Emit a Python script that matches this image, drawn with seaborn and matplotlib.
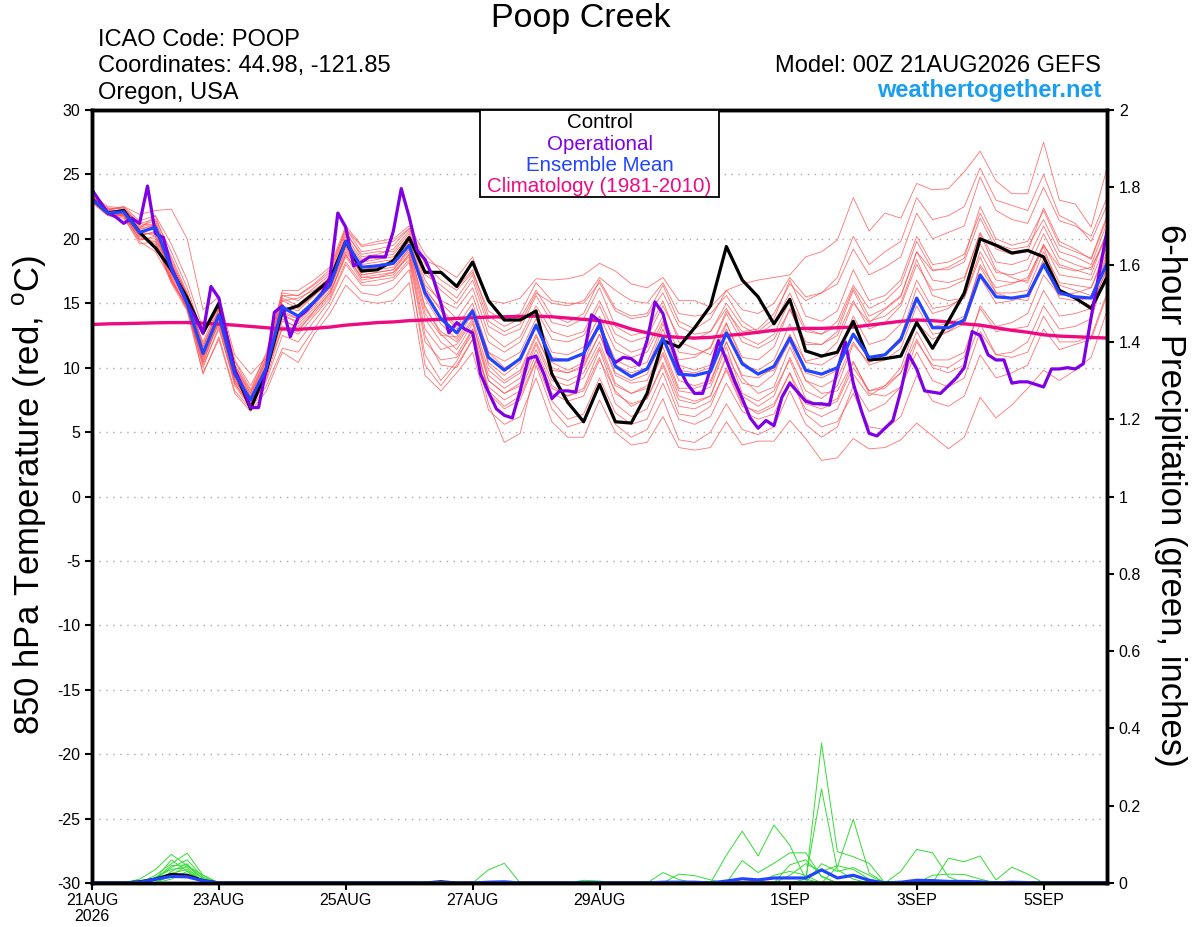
import numpy as np
import pandas as pd
import seaborn as sns
import matplotlib.pyplot as plt
from matplotlib.patches import Rectangle

# forecast hours: GEFS every 6 h, operational GFS every 3 h
hours = np.arange(0, 385, 6)
hours_op = np.arange(0, 385, 3)

tick_hours = [0, 48, 96, 144, 192, 264, 312, 360]
tick_labels = ["21AUG\n2026", "23AUG", "25AUG", "27AUG", "29AUG", "1SEP", "3SEP", "5SEP"]

control = [23.1, 22.0, 22.2, 20.5, 19.3, 17.6, 15.4, 12.7, 15.0, 9.8, 6.8,
           9.8, 14.4, 14.8, 15.8, 16.8, 19.8, 17.5, 17.6, 18.3, 20.1,
           17.4, 17.4, 16.3, 18.2, 15.2, 13.7, 13.7, 14.4, 9.5, 7.3, 5.8, 8.7, 5.8, 5.7, 8.0, 12.1, 11.6, 13.1, 14.8, 19.4,
           16.8, 15.5, 13.4, 15.3, 11.3, 10.9, 11.2, 13.6, 10.6, 10.7, 10.9, 13.5, 11.5, 13.6, 15.8, 20.0, 19.5, 18.9, 19.1, 18.6, 16.0, 15.4, 14.6, 17.0]

ens_mean = [23.1, 22.0, 22.1, 20.5, 20.9, 17.7, 15.0, 11.1, 14.1, 9.5, 7.5,
            10.0, 14.7, 14.0, 15.1, 16.4, 19.8, 17.8, 17.9, 18.1, 19.5,
            15.8, 13.8, 12.7, 14.4, 10.8, 9.8, 10.7, 13.3, 10.6, 10.6, 11.1, 13.3, 10.1, 9.3, 9.9, 12.3, 9.5, 9.4, 9.7, 12.7,
            10.3, 9.5, 10.1, 12.3, 9.8, 9.5, 10.0, 12.6, 10.8, 11.0, 12.2, 15.4, 13.1, 13.1, 13.7, 17.2, 15.5, 15.4, 15.6, 18.0, 15.8, 15.5, 15.4, 18.1]

operational = [23.8, 22.9, 22.0, 21.7, 21.2, 21.6, 21.2, 24.1, 20.4, 20.1,
               17.8, 16.4, 15.0, 13.9, 12.7, 16.3, 15.4, 12.4, 9.8, 8.5,
               6.9, 6.9, 10.0, 14.3, 14.8, 12.4, 13.9, 14.4, 15.1, 15.8,
               17.0, 22.0, 20.9, 17.9, 18.2, 18.6, 18.6, 18.6, 20.6, 23.9,
               21.7, 19.1, 18.4, 17.0, 15.0, 12.7, 13.5, 13.0, 12.7, 9.5,
               8.1, 6.8, 6.3, 6.1, 8.2, 10.7, 10.9, 9.5, 7.6, 8.2,
               8.2, 8.1, 10.9, 14.1, 13.6, 11.2, 10.4, 10.8, 10.7, 10.2,
               12.1, 15.1, 14.2, 11.9, 10.0, 8.8, 8.0, 8.0, 9.9, 12.1,
               10.6, 9.0, 7.6, 6.1, 5.3, 5.9, 5.5, 7.7, 8.8, 8.1,
               7.4, 7.2, 7.2, 7.1, 9.8, 12.0, 8.8, 6.7, 4.9, 4.7,
               5.3, 5.9, 8.2, 11.0, 9.9, 8.2, 8.1, 8.0, 8.6, 9.2,
               10.0, 12.8, 12.5, 11.0, 10.6, 10.6, 8.8, 8.9, 8.9, 8.7,
               8.5, 9.9, 9.9, 10.0, 9.9, 10.3, 13.9, 17.3, 20.6]

climatology = [13.35, 13.4, 13.42, 13.45, 13.48, 13.5, 13.5, 13.45, 13.38, 13.3,
               13.2, 13.1, 13.0, 12.98, 13.05, 13.15, 13.3, 13.4, 13.5, 13.55,
               13.65, 13.7, 13.75, 13.82, 13.88, 13.92, 13.95, 13.98, 14.0, 13.95,
               13.85, 13.75, 13.65, 13.4, 13.0, 12.7, 12.45, 12.35, 12.3, 12.35,
               12.5, 12.6, 12.75, 12.9, 13.0, 13.05, 13.05, 13.1, 13.15, 13.3,
               13.45, 13.6, 13.7, 13.65, 13.55, 13.4, 13.3, 13.1, 12.9, 12.75,
               12.55, 12.45, 12.4, 12.35, 12.3]

members = {
    "m01": [23.3, 22.4, 22.3, 21.2, 21.5, 19.0, 16.2, 12.5, 14.8, 10.5, 8.3,
            11.2, 15.8, 15.6, 16.5, 17.6, 20.8, 19.0, 19.2, 19.5, 20.8,
            18.3, 17.8, 17.0, 18.6, 15.2, 15.0, 15.4, 16.9, 16.8, 16.9, 17.2, 18.1, 17.5, 16.5, 16.2, 17.0, 15.2, 15.2, 14.7, 16.0,
            16.5, 16.8, 17.0, 17.2, 18.6, 19.0, 19.9, 23.2, 20.6, 22.0, 21.6, 24.3, 23.8, 23.9, 25.2, 26.8, 24.5, 23.5, 23.5, 27.5, 23.0, 22.7, 20.9, 25.5],
    "m02": [22.9, 21.8, 21.6, 19.8, 19.0, 16.8, 14.6, 9.6, 12.2, 8.0, 6.6,
            8.2, 11.2, 10.4, 12.6, 14.2, 16.4, 15.2, 15.0, 15.2, 16.6,
            9.4, 8.2, 9.6, 11.2, 6.7, 5.6, 6.2, 9.2, 5.8, 4.6, 4.6, 7.5, 5.0, 4.0, 4.2, 6.2, 3.8, 3.6, 3.8, 5.8,
            4.0, 4.3, 4.3, 5.9, 4.5, 2.8, 3.0, 4.5, 3.7, 3.8, 4.4, 5.7, 4.7, 3.7, 4.6, 7.7, 6.1, 7.1, 8.4, 9.8, 9.0, 9.8, 10.8, 14.4],
    "m03": [23.2, 22.2, 22.2, 20.8, 21.8, 18.4, 15.6, 11.8, 14.5, 9.8, 7.8,
            10.4, 15.2, 14.6, 15.6, 16.9, 20.2, 18.4, 18.6, 18.8, 20.2,
            16.8, 15.0, 13.8, 15.6, 12.0, 11.2, 12.0, 14.5, 12.2, 12.0, 12.5, 14.8, 12.0, 11.2, 11.6, 14.0, 11.2, 11.0, 11.5, 14.2,
            12.0, 11.5, 12.2, 14.5, 12.0, 11.8, 12.5, 15.2, 13.0, 13.5, 14.8, 18.0, 16.0, 16.2, 16.8, 20.5, 18.2, 18.0, 18.4, 21.0, 18.5, 18.0, 17.6, 20.5],
    "m04": [23.0, 21.9, 21.9, 20.2, 20.6, 17.2, 14.8, 10.4, 13.6, 9.0, 7.2,
            9.4, 13.8, 13.0, 14.2, 15.6, 18.8, 17.0, 17.0, 17.4, 18.6,
            12.5, 10.2, 10.0, 12.2, 8.5, 7.5, 8.2, 11.0, 8.0, 7.4, 7.8, 10.6, 8.2, 7.0, 7.6, 10.4, 7.5, 7.2, 7.8, 11.0,
            8.8, 8.5, 9.5, 12.5, 10.5, 10.8, 12.0, 15.0, 13.5, 14.5, 15.5, 19.0, 17.5, 17.8, 18.5, 22.5, 20.0, 19.5, 19.8, 22.2, 19.5, 19.0, 18.5, 21.8],
    "m05": [23.1, 22.1, 22.0, 20.6, 20.2, 17.6, 15.2, 12.0, 14.8, 10.2, 8.0,
            10.8, 15.6, 15.2, 16.2, 17.2, 20.6, 18.6, 18.8, 19.2, 20.6,
            17.6, 16.0, 15.0, 16.8, 13.2, 12.5, 13.0, 15.6, 13.5, 13.2, 13.8, 16.2, 13.2, 12.5, 12.8, 15.2, 12.0, 11.5, 11.0, 13.5,
            10.5, 9.5, 9.8, 12.0, 9.0, 8.0, 8.2, 10.5, 8.0, 7.8, 8.5, 11.2, 9.0, 8.5, 9.2, 12.8, 11.0, 11.2, 12.0, 14.8, 13.0, 13.2, 13.8, 17.5],
    "m06": [23.0, 22.3, 22.5, 21.9, 22.2, 22.3, 20.0, 14.5, 15.5, 11.0, 9.5,
            10.8, 14.2, 13.8, 15.0, 16.2, 19.4, 17.2, 17.4, 17.6, 19.0,
            14.2, 12.5, 12.4, 14.5, 10.2, 9.0, 9.8, 12.6, 9.8, 9.6, 10.2, 12.6, 9.6, 9.0, 9.5, 12.2, 9.0, 8.6, 9.0, 12.0,
            9.2, 8.0, 8.5, 11.6, 9.0, 8.5, 9.2, 12.0, 10.2, 10.6, 11.5, 14.8, 12.6, 12.8, 13.4, 17.0, 15.0, 15.2, 15.6, 18.4, 16.4, 16.0, 15.6, 18.8],
    "m07": [23.0, 21.9, 21.7, 19.6, 19.8, 16.6, 14.4, 9.5, 12.4, 8.2, 6.8,
            8.6, 11.5, 11.2, 13.0, 14.8, 17.2, 15.8, 15.6, 16.2, 17.6,
            11.0, 9.0, 10.5, 13.0, 8.0, 6.8, 7.5, 10.5, 7.4, 6.0, 6.4, 9.2, 6.5, 5.6, 6.0, 8.8, 6.0, 5.6, 6.2, 8.8,
            6.6, 6.0, 6.4, 9.0, 6.8, 6.2, 6.8, 9.5, 7.8, 8.6, 10.0, 13.5, 12.2, 12.8, 13.8, 18.0, 16.2, 16.5, 17.0, 19.5, 17.8, 17.5, 17.8, 20.2],
    "m08": [23.4, 22.5, 22.4, 21.2, 21.0, 18.0, 15.8, 12.6, 15.2, 10.6, 8.6,
            11.0, 16.0, 16.0, 16.8, 17.8, 21.0, 19.5, 19.8, 20.0, 21.0,
            18.8, 17.5, 16.2, 17.6, 14.0, 13.2, 13.8, 16.0, 14.0, 13.5, 14.2, 16.8, 14.6, 14.0, 14.2, 16.4, 13.6, 13.0, 13.8, 16.0,
            14.5, 14.2, 15.0, 17.0, 15.5, 15.8, 16.5, 19.2, 17.2, 17.8, 18.6, 22.0, 20.0, 20.5, 21.0, 24.8, 22.2, 21.5, 21.2, 24.0, 21.4, 21.0, 20.2, 23.2],
    "m09": [23.1, 22.0, 22.0, 20.4, 20.4, 17.0, 14.6, 10.6, 13.8, 9.2, 7.0,
            9.6, 14.2, 13.4, 14.6, 16.0, 19.2, 17.2, 17.4, 17.6, 19.2,
            14.8, 12.6, 11.4, 13.4, 9.4, 8.4, 9.2, 12.0, 9.4, 9.0, 9.6, 12.0, 8.8, 8.0, 8.6, 11.2, 8.2, 8.0, 8.5, 11.6,
            8.0, 7.4, 8.2, 10.6, 7.6, 7.0, 7.6, 10.4, 8.2, 8.4, 9.6, 12.8, 10.6, 10.6, 11.2, 14.6, 12.8, 13.0, 13.2, 16.0, 14.0, 14.2, 14.6, 17.8],
    "m10": [23.2, 22.1, 22.3, 20.9, 21.2, 18.6, 15.8, 11.4, 14.2, 9.6, 7.4,
            10.2, 14.8, 14.4, 15.6, 16.6, 19.8, 18.0, 18.2, 18.4, 19.8,
            16.0, 14.6, 13.2, 15.0, 11.2, 10.5, 11.2, 13.8, 11.2, 11.0, 11.6, 14.0, 11.4, 10.8, 11.2, 13.6, 10.6, 10.8, 11.6, 14.4,
            12.8, 13.0, 14.2, 16.5, 15.2, 15.8, 17.0, 20.2, 18.0, 19.0, 19.8, 23.2, 21.5, 21.8, 22.5, 25.5, 23.0, 22.6, 22.2, 25.0, 21.8, 21.2, 19.8, 22.6],
    "m11": [22.8, 21.8, 21.8, 20.0, 20.0, 16.8, 14.8, 10.0, 13.2, 8.6, 6.9,
            9.0, 12.5, 12.0, 13.6, 15.2, 18.0, 16.4, 16.4, 16.8, 18.2,
            10.2, 8.6, 10.2, 12.2, 7.2, 4.2, 4.9, 10.2, 6.8, 5.4, 5.8, 8.6, 5.6, 4.6, 5.2, 7.6, 4.4, 4.2, 5.0, 7.2,
            5.2, 4.8, 5.4, 8.2, 5.6, 4.6, 5.4, 8.6, 6.6, 7.2, 8.5, 12.0, 10.2, 10.0, 10.8, 14.8, 13.2, 13.5, 14.2, 17.2, 15.6, 15.8, 16.2, 19.0],
    "m12": [23.3, 22.2, 22.5, 21.4, 21.8, 19.6, 16.8, 13.0, 14.6, 10.0, 8.0,
            10.6, 15.2, 15.4, 16.0, 17.0, 20.4, 18.8, 19.0, 19.0, 20.4,
            17.2, 16.4, 15.4, 17.2, 13.6, 12.8, 13.4, 15.8, 15.0, 14.8, 15.2, 17.0, 16.0, 15.2, 15.0, 16.6, 14.2, 14.0, 14.2, 15.6,
            13.6, 12.8, 13.8, 16.8, 14.0, 13.6, 14.4, 17.6, 15.2, 15.6, 16.8, 20.2, 18.0, 18.2, 18.8, 22.0, 19.6, 19.2, 19.4, 21.5, 19.0, 18.6, 18.0, 21.2],
    "m13": [22.9, 21.9, 21.9, 19.9, 20.2, 17.0, 14.5, 10.2, 13.0, 8.8, 7.0,
            9.2, 13.2, 12.6, 14.0, 15.4, 18.2, 16.6, 16.8, 17.0, 18.4,
            12.0, 10.6, 10.8, 12.6, 8.2, 7.0, 7.8, 10.6, 8.4, 7.8, 8.2, 10.8, 7.2, 6.2, 6.8, 9.6, 6.4, 6.2, 7.0, 10.0,
            7.2, 6.4, 7.0, 9.6, 6.4, 5.4, 5.8, 8.0, 5.4, 5.2, 6.2, 9.4, 7.4, 7.0, 7.8, 11.0, 9.2, 9.6, 10.2, 13.0, 11.4, 11.8, 12.2, 15.6],
    "m14": [23.1, 22.0, 22.2, 20.6, 20.8, 17.4, 15.2, 11.2, 14.0, 9.4, 7.4,
            10.0, 14.6, 14.0, 15.2, 16.6, 19.6, 17.6, 17.8, 18.0, 19.6,
            15.4, 13.4, 12.2, 14.2, 10.4, 9.4, 10.4, 13.2, 10.8, 10.6, 11.0, 13.6, 10.2, 9.6, 10.0, 13.0, 9.8, 9.6, 10.0, 13.0,
            10.2, 9.8, 10.6, 13.4, 10.4, 10.2, 11.0, 14.0, 11.8, 12.2, 13.4, 16.8, 14.6, 14.8, 15.4, 19.0, 16.8, 16.6, 16.8, 19.6, 17.2, 17.0, 16.8, 19.8],
    "m15": [23.0, 22.1, 21.8, 20.2, 19.6, 16.6, 14.8, 10.8, 13.4, 9.0, 7.2,
            9.8, 13.0, 12.8, 14.4, 15.8, 18.6, 16.8, 17.0, 17.2, 18.8,
            13.0, 11.4, 11.8, 13.6, 9.0, 8.0, 8.8, 11.8, 9.0, 8.6, 9.2, 11.6, 8.6, 8.0, 8.4, 11.0, 7.8, 7.4, 7.8, 10.8,
            7.8, 7.0, 7.8, 10.8, 8.2, 7.6, 8.6, 11.8, 10.4, 11.0, 12.4, 16.2, 14.2, 14.6, 15.6, 19.6, 17.4, 17.2, 17.6, 20.4, 18.0, 17.6, 17.2, 20.6],
    "m16": [23.2, 22.3, 22.4, 21.0, 21.4, 18.2, 15.6, 11.6, 14.4, 10.0, 7.8,
            10.6, 15.4, 14.8, 15.8, 17.0, 20.0, 18.2, 18.4, 18.6, 20.0,
            16.4, 15.2, 14.6, 16.2, 12.6, 11.6, 12.4, 14.8, 12.8, 12.4, 12.8, 15.2, 12.6, 12.0, 12.4, 14.8, 12.4, 12.2, 12.8, 15.0,
            13.2, 12.6, 13.4, 15.8, 13.0, 12.6, 13.2, 16.2, 14.0, 14.6, 15.6, 19.0, 16.8, 16.6, 17.0, 20.4, 17.6, 17.0, 16.6, 19.4, 16.0, 15.4, 14.8, 17.6],
    "m17": [23.0, 21.9, 21.8, 20.0, 19.8, 16.8, 14.6, 10.4, 13.6, 8.8, 7.0,
            9.6, 13.6, 13.2, 14.4, 15.8, 18.8, 17.0, 17.2, 17.4, 18.8,
            13.8, 12.0, 11.0, 13.0, 9.0, 8.0, 8.6, 11.4, 8.6, 7.8, 8.4, 11.4, 8.0, 7.2, 7.6, 10.2, 7.0, 6.8, 7.4, 9.8,
            7.0, 6.6, 7.2, 9.6, 7.2, 6.8, 7.4, 10.0, 8.2, 8.6, 9.6, 12.2, 10.0, 9.6, 10.2, 13.4, 11.0, 10.8, 11.2, 14.0, 12.0, 12.0, 12.4, 15.8],
    "m18": [23.3, 22.3, 22.1, 20.8, 21.0, 17.8, 15.4, 11.6, 14.6, 10.2, 8.2,
            10.8, 15.6, 15.6, 16.4, 17.4, 20.8, 19.4, 19.6, 19.8, 20.8,
            18.0, 16.8, 16.0, 17.4, 14.4, 13.6, 14.2, 16.6, 15.2, 15.0, 15.0, 16.6, 14.4, 13.8, 14.0, 15.8, 13.2, 12.6, 12.8, 14.6,
            12.4, 11.8, 12.6, 15.2, 12.8, 12.6, 13.6, 16.4, 14.6, 15.2, 16.4, 19.8, 17.6, 17.6, 18.2, 21.6, 19.2, 18.8, 19.0, 22.4, 19.8, 19.2, 18.4, 21.6],
    "m19": [23.0, 22.0, 21.9, 20.3, 20.5, 17.3, 15.0, 10.8, 13.8, 9.2, 7.2,
            9.8, 14.0, 13.6, 14.8, 16.2, 19.0, 17.4, 17.6, 17.8, 19.2,
            14.6, 12.8, 12.0, 13.8, 9.8, 8.8, 9.6, 12.4, 10.0, 9.6, 10.0, 12.6, 9.4, 8.8, 9.0, 11.6, 8.4, 8.4, 8.8, 12.0,
            9.4, 9.2, 10.0, 12.6, 9.6, 9.2, 9.8, 12.6, 10.6, 11.0, 12.0, 15.4, 13.2, 13.4, 14.0, 17.8, 15.8, 15.8, 16.0, 19.0, 16.6, 16.4, 16.2, 19.4],
    "m20": [23.2, 22.2, 22.0, 20.7, 21.1, 18.0, 15.4, 11.2, 14.2, 9.6, 7.6,
            10.2, 14.4, 13.8, 15.0, 16.4, 19.4, 17.8, 18.0, 18.2, 19.8,
            16.2, 14.4, 13.0, 14.6, 11.2, 10.0, 10.6, 13.4, 10.4, 9.8, 10.4, 13.4, 10.6, 10.0, 10.4, 13.4, 10.2, 9.8, 10.2, 13.4,
            10.8, 10.6, 11.6, 14.6, 11.8, 11.8, 12.8, 16.0, 13.6, 14.0, 15.0, 18.4, 15.6, 15.2, 15.4, 18.6, 15.8, 15.4, 15.2, 18.2, 15.4, 15.2, 15.4, 18.6],
}

# 6-hour precipitation (inches), one row of ten steps per line
precip_members = {
    "m01": [0, 0, 0, 0.01, 0.035, 0.074, 0.045, 0.01, 0, 0,
            0, 0, 0, 0, 0, 0, 0, 0, 0, 0,
            0, 0, 0, 0, 0, 0, 0, 0, 0, 0,
            0, 0, 0, 0, 0, 0, 0, 0, 0, 0,
            0.072, 0.134, 0.07, 0.15, 0.098, 0.01, 0, 0, 0, 0,
            0, 0, 0, 0, 0, 0, 0, 0, 0, 0,
            0, 0, 0, 0, 0],
    "m02": [0, 0, 0, 0, 0.02, 0.05, 0.077, 0.02, 0, 0,
            0, 0, 0, 0, 0, 0, 0, 0, 0, 0,
            0, 0, 0, 0, 0, 0, 0, 0, 0, 0,
            0, 0, 0, 0, 0, 0, 0, 0, 0, 0,
            0, 0.058, 0.027, 0.051, 0.078, 0.078, 0.016, 0, 0, 0,
            0, 0, 0, 0, 0, 0, 0, 0, 0, 0,
            0, 0, 0, 0, 0],
    "m03": [0, 0, 0, 0, 0.01, 0.04, 0.06, 0.015, 0, 0,
            0, 0, 0, 0, 0, 0, 0, 0, 0, 0,
            0, 0, 0, 0, 0, 0, 0, 0, 0, 0,
            0, 0, 0, 0, 0, 0, 0, 0, 0, 0,
            0, 0, 0, 0, 0, 0, 0.362, 0.081, 0.068, 0.051,
            0, 0, 0, 0, 0, 0, 0, 0, 0, 0,
            0, 0, 0, 0, 0],
    "m04": [0, 0, 0, 0, 0.01, 0.045, 0.047, 0.012, 0, 0,
            0, 0, 0, 0, 0, 0, 0, 0, 0, 0,
            0, 0, 0, 0, 0, 0, 0, 0, 0, 0,
            0, 0, 0, 0, 0, 0, 0, 0, 0, 0,
            0, 0, 0, 0, 0, 0.01, 0.243, 0.034, 0.01, 0,
            0, 0, 0, 0, 0, 0, 0, 0, 0, 0,
            0, 0, 0, 0, 0],
    "m05": [0, 0, 0, 0, 0.015, 0.035, 0.04, 0, 0, 0,
            0, 0, 0, 0, 0, 0, 0, 0, 0, 0,
            0, 0, 0, 0, 0, 0.034, 0.051, 0, 0, 0,
            0, 0, 0, 0, 0, 0, 0, 0, 0, 0,
            0, 0, 0, 0, 0, 0, 0, 0.042, 0.165, 0.026,
            0, 0, 0, 0, 0, 0, 0, 0, 0, 0,
            0, 0, 0, 0, 0],
    "m06": [0, 0, 0, 0, 0, 0.03, 0.05, 0, 0, 0,
            0, 0, 0, 0, 0, 0, 0, 0, 0, 0,
            0, 0, 0, 0, 0, 0, 0, 0, 0, 0,
            0, 0, 0, 0, 0, 0, 0.027, 0.009, 0, 0,
            0, 0, 0, 0, 0.047, 0.06, 0.018, 0, 0, 0,
            0, 0.03, 0.087, 0.078, 0.016, 0, 0, 0, 0, 0,
            0, 0, 0, 0, 0],
    "m07": [0, 0, 0, 0, 0, 0.025, 0.035, 0, 0, 0,
            0, 0, 0, 0, 0, 0, 0, 0, 0, 0,
            0, 0, 0, 0, 0, 0, 0, 0, 0, 0,
            0, 0, 0, 0, 0, 0, 0, 0.023, 0.019, 0.008,
            0, 0, 0, 0, 0, 0, 0, 0, 0, 0,
            0, 0, 0, 0, 0.064, 0.055, 0.07, 0.008, 0.041, 0.023,
            0, 0, 0, 0, 0],
    "m08": [0, 0, 0, 0, 0, 0.01, 0.03, 0, 0, 0,
            0, 0, 0, 0, 0, 0, 0, 0, 0, 0,
            0, 0, 0.005, 0, 0, 0, 0, 0, 0, 0,
            0, 0, 0, 0, 0, 0, 0, 0, 0, 0,
            0, 0, 0, 0.02, 0.03, 0.02, 0, 0, 0, 0,
            0, 0, 0, 0.02, 0.023, 0.022, 0.01, 0, 0, 0,
            0, 0, 0, 0, 0],
    "m09": [0, 0, 0, 0, 0, 0.02, 0.045, 0.02, 0, 0,
            0, 0, 0, 0, 0, 0, 0, 0, 0, 0,
            0, 0, 0, 0, 0, 0, 0, 0, 0, 0,
            0, 0, 0, 0, 0, 0, 0, 0, 0, 0,
            0, 0, 0, 0, 0, 0, 0.05, 0.03, 0.04, 0.02,
            0, 0, 0, 0, 0, 0, 0, 0, 0, 0,
            0, 0, 0, 0, 0],
    "m10": [0, 0, 0, 0, 0.01, 0.06, 0.03, 0, 0, 0,
            0, 0, 0, 0, 0, 0, 0, 0, 0, 0,
            0, 0, 0, 0, 0, 0, 0, 0, 0, 0,
            0, 0.007, 0.005, 0, 0, 0, 0, 0, 0, 0,
            0, 0, 0, 0, 0.02, 0.05, 0.03, 0.045, 0.035, 0.01,
            0, 0, 0, 0, 0, 0, 0, 0, 0, 0,
            0, 0, 0, 0, 0],
}

precip_control = [0, 0, 0, 0.003, 0.01, 0.022, 0.02, 0.006, 0, 0,
                  0, 0, 0, 0, 0, 0, 0, 0, 0, 0,
                  0, 0, 0.003, 0, 0, 0, 0, 0, 0, 0,
                  0, 0, 0, 0, 0, 0, 0, 0, 0, 0,
                  0, 0, 0, 0, 0, 0, 0, 0, 0, 0,
                  0, 0, 0, 0, 0, 0, 0, 0, 0, 0,
                  0, 0, 0, 0, 0]

precip_mean = [0, 0, 0, 0.002, 0.01, 0.017, 0.016, 0.006, 0, 0,
               0, 0, 0, 0, 0, 0, 0, 0, 0, 0,
               0, 0, 0.001, 0, 0, 0.002, 0.003, 0, 0, 0,
               0, 0, 0, 0, 0, 0, 0.002, 0.002, 0.002, 0,
               0.005, 0.011, 0.008, 0.013, 0.013, 0.013, 0.034, 0.013, 0.02, 0.007,
               0, 0.002, 0.007, 0.006, 0.004, 0.004, 0.003, 0, 0.002, 0.001,
               0, 0, 0, 0, 0]

# long-form tables for seaborn
temp_df = pd.DataFrame([(h, v, name) for name, vals in members.items()
                        for h, v in zip(hours, vals)],
                       columns=["hour", "temp", "member"])
precip_df = pd.DataFrame([(h, v, name) for name, vals in precip_members.items()
                          for h, v in zip(hours, vals)],
                         columns=["hour", "precip", "member"])

sns.set_style("ticks")
plt.rcParams["font.family"] = ["Liberation Sans", "DejaVu Sans"]
plt.rcParams["mathtext.fontset"] = "custom"
plt.rcParams["mathtext.rm"] = "Liberation Sans"
plt.rcParams["axes.unicode_minus"] = False
plt.rcParams["text.color"] = "black"
plt.rcParams["xtick.color"] = "black"
plt.rcParams["ytick.color"] = "black"
plt.rcParams["xtick.labelcolor"] = "black"
plt.rcParams["ytick.labelcolor"] = "black"

W, H = 1200, 927
fig = plt.figure(figsize=(12, 9.27), dpi=100)
ax = fig.add_axes([92 / W, 1 - 883 / H, (1107 - 92) / W, (883 - 110) / H])
ax2 = ax.twinx()

red = "#ff5050"
green = "#33dd33"
purple = "#7f00e6"
blue = "#2244ff"
magenta = "#ee0a80"

# temperature
sns.lineplot(data=temp_df, x="hour", y="temp", units="member", estimator=None,
             color=red, lw=0.6, alpha=0.8, ax=ax, legend=False)
sns.lineplot(x=hours, y=climatology, color=magenta, lw=2.4, ax=ax)
sns.lineplot(x=hours, y=control, color="black", lw=2.3, ax=ax)
sns.lineplot(x=hours_op, y=operational, color=purple, lw=2.3, ax=ax)
sns.lineplot(x=hours, y=ens_mean, color=blue, lw=2.3, ax=ax)

# precipitation
sns.lineplot(data=precip_df, x="hour", y="precip", units="member", estimator=None,
             color=green, lw=0.7, ax=ax2, legend=False)
sns.lineplot(x=hours, y=precip_control, color="black", lw=2.3, ax=ax2)
sns.lineplot(x=hours, y=precip_mean, color=blue, lw=2.3, ax=ax2)

ax.set_xlim(0, 384)
ax.set_ylim(-30, 30)
ax.set_yticks(np.arange(-30, 31, 5))
ax.set_xticks(tick_hours)
ax.set_xticklabels(tick_labels, fontsize=11.5, linespacing=1.1)
ax.set_xlabel("")
ax.set_ylabel("")
ax.grid(axis="y", ls=(0, (1, 4)), color="#a8a8a8", lw=1)
ax.tick_params(axis="y", labelsize=11.5, length=5, width=1.5, direction="out")
ax.tick_params(axis="x", length=5, width=1.5, direction="out", pad=2)

ax2.set_ylim(0, 2)
pt = np.round(np.arange(0, 2.01, 0.2), 1)
ax2.set_yticks(pt)
ax2.set_yticklabels([f"{v:g}" for v in pt])
ax2.set_ylabel("")
ax2.tick_params(axis="y", labelsize=11.5, length=5, width=1.5, direction="out")

for a in (ax, ax2):
    for s in a.spines.values():
        s.set_visible(True)
        s.set_linewidth(2.5)
        s.set_color("black")

# legend box at the top centre
box = Rectangle((0.3823, 0.8875), 0.2354, 0.1125, transform=ax.transAxes,
                fill=True, facecolor="white", edgecolor="black", lw=1.3, zorder=5)
ax2.add_patch(box)
legend_items = [("Control", "black"), ("Operational", purple),
                ("Ensemble Mean", blue), ("Climatology (1981-2010)", magenta)]
for k, (lab, col) in enumerate(legend_items):
    ax2.text(0.5, 0.9835 - k * 0.0276, lab, color=col, fontsize=14.8,
             ha="center", va="center", transform=ax.transAxes, zorder=6)

# header texts
fig.text(581 / W, 1 - 19 / H, "Poop Creek", fontsize=24.5, ha="center", va="center")
fig.text(98 / W, 1 - 40 / H, "ICAO Code: POOP", fontsize=17, ha="left", va="center")
fig.text(98 / W, 1 - 66 / H, "Coordinates: 44.98, -121.85", fontsize=17, ha="left", va="center")
fig.text(98 / W, 1 - 93 / H, "Oregon, USA", fontsize=17, ha="left", va="center")
fig.text(1101 / W, 1 - 66 / H, "Model: 00Z 21AUG2026 GEFS", fontsize=17, ha="right", va="center")
fig.text(1101 / W, 1 - 90 / H, "weathertogether.net", fontsize=17, fontweight="bold",
         color="#1a9ff0", ha="right", va="center")

fig.text(30 / W, 1 - 495 / H, r"850 hPa Temperature (red, $^{\rm o}$C)", fontsize=25,
         rotation=90, ha="center", va="center")
fig.text(1170 / W, 1 - 495 / H, "6-hour Precipitation (green, inches)", fontsize=25,
         rotation=270, ha="center", va="center")

fig.savefig("out.png", dpi=100)
